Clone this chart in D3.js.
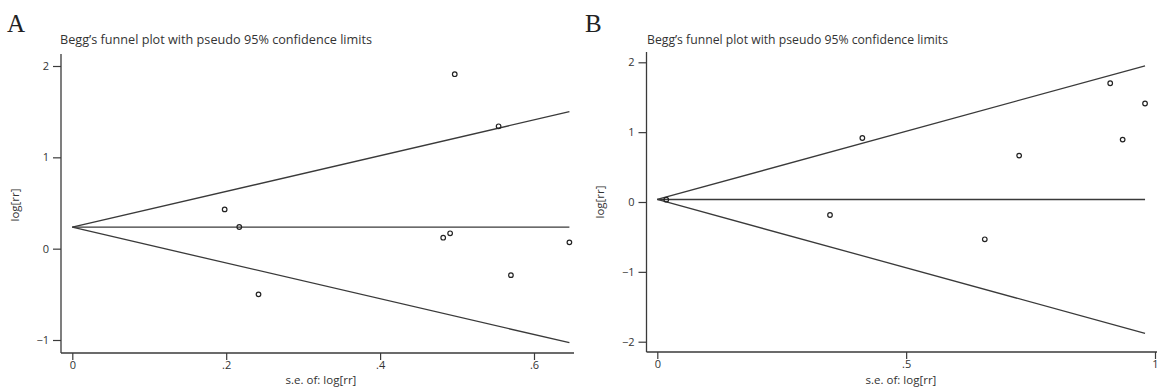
<!DOCTYPE html>
<html>
<head>
<meta charset="utf-8">
<script src="https://cdn.jsdelivr.net/npm/d3@7"></script>
<style>
  body { margin: 0; background: #fff; }
  text { font-family: "Open Sans", "DejaVu Sans", sans-serif; fill: #333; }
</style>
</head>
<body>
<script>
// Panel A data: standard error and log risk ratio of each study
var seA = [0.198, 0.217, 0.242, 0.482, 0.491, 0.497, 0.554, 0.570, 0.646];
var logrrA = [0.43, 0.237, -0.50, 0.12, 0.168, 1.91, 1.34, -0.29, 0.069];
// Funnel of panel A: se, centre line, upper and lower pseudo limits
var funnelSeA = [0, 0.646];
var funnelMidA = [0.235, 0.235];
var funnelUpA = [0.235, 1.50];
var funnelLoA = [0.235, -1.03];
var xTicksA = [0, 0.2, 0.4, 0.6];
var xTickLabelsA = ["0", ".2", ".4", ".6"];
var yTicksA = [-1, 0, 1, 2];

// Panel B data
var seB = [0.018, 0.347, 0.412, 0.658, 0.727, 0.910, 0.935, 0.980];
var logrrB = [0.034, -0.186, 0.916, -0.534, 0.664, 1.70, 0.893, 1.41];
var funnelSeB = [0, 0.98];
var funnelMidB = [0.036, 0.036];
var funnelUpB = [0.036, 1.95];
var funnelLoB = [0.036, -1.88];
var xTicksB = [0, 0.5, 1];
var xTickLabelsB = ["0", ".5", "1"];
var yTicksB = [-2, -1, 0, 1, 2];

var svg = d3.select("body").append("svg")
    .attr("width", 1157)
    .attr("height", 387);

var ink = "#3a3a3a";

// draw one funnel panel
function funnelPanel(p) {
    var g = svg.append("g");
    var x = d3.scaleLinear().domain(p.xDomain).range(p.xRange);
    var y = d3.scaleLinear().domain(p.yDomain).range(p.yRange);

    // panel letter
    g.append("text")
        .attr("x", p.letterX).attr("y", 32)
        .style("font-family", "'Liberation Serif', 'DejaVu Serif', serif")
        .style("font-size", "25px")
        .style("fill", "#222")
        .text(p.letter);

    // title
    g.append("text")
        .attr("x", p.titleX).attr("y", 44)
        .attr("textLength", p.titleW)
        .attr("lengthAdjust", "spacingAndGlyphs")
        .style("font-size", "12px")
        .text("Begg\u2019s funnel plot with pseudo 95% confidence limits");

    // axes
    var yAxis = d3.axisLeft(y).tickValues(p.yTicks).tickSize(8).tickPadding(4)
        .tickFormat(function(d) { return d < 0 ? "\u2212" + Math.abs(d) : d; });
    var xAxis = d3.axisBottom(x).tickValues(p.xTicks).tickSize(7).tickPadding(1)
        .tickFormat(function(d, i) { return p.xTickLabels[i]; });

    var ya = g.append("g")
        .attr("transform", "translate(" + p.axisX + ",0)")
        .call(yAxis);
    ya.select(".domain").remove();
    ya.append("line")
        .attr("x1", 0).attr("x2", 0)
        .attr("y1", p.axisTop).attr("y2", p.axisY)
        .attr("stroke", ink).attr("stroke-width", 1.3);

    var xa = g.append("g")
        .attr("transform", "translate(0," + p.axisY + ")")
        .call(xAxis);
    xa.select(".domain").remove();
    xa.append("line")
        .attr("x1", p.axisX).attr("x2", p.axisRight)
        .attr("y1", 0).attr("y2", 0)
        .attr("stroke", ink).attr("stroke-width", 1.3);

    g.selectAll(".tick line").attr("stroke", ink).attr("stroke-width", 1.2);
    g.selectAll(".tick text").style("font-size", "11px").attr("fill", "#333")
        .style("font-family", "'Open Sans', 'DejaVu Sans', sans-serif");
    // keep a tick label at the right page edge inside the picture
    xa.selectAll(".tick text").filter(function() {
        return p.axisRight > 1150 && this.textContent === "1";
    }).attr("text-anchor", "end").attr("dx", "3");

    // axis titles
    g.append("text")
        .attr("transform", "translate(" + p.yLabelX + "," + p.yLabelY + ") rotate(-90)")
        .style("text-anchor", "middle")
        .style("font-size", "11.5px")
        .text("log[rr]");
    g.append("text")
        .attr("x", p.xLabelX).attr("y", 384)
        .style("text-anchor", "middle")
        .style("font-size", "11.5px")
        .text("s.e. of: log[rr]");

    // funnel lines
    var line = d3.line()
        .x(function(d) { return x(d[0]); })
        .y(function(d) { return y(d[1]); });
    [p.mid, p.up, p.lo].forEach(function(v) {
        g.append("path")
            .datum(d3.zip(p.funnelSe, v))
            .attr("d", line)
            .attr("fill", "none")
            .attr("stroke", ink)
            .attr("stroke-width", 1.3);
    });

    // studies
    g.selectAll("circle.study")
        .data(d3.zip(p.se, p.logrr))
        .enter()
        .append("circle")
        .attr("class", "study")
        .attr("cx", function(d) { return x(d[0]); })
        .attr("cy", function(d) { return y(d[1]); })
        .attr("r", 2.3)
        .attr("fill", "none")
        .attr("stroke", "#222")
        .attr("stroke-width", 1.2);
}

funnelPanel({
    letter: "A", letterX: 7, titleX: 60, titleW: 312,
    xDomain: [0, 0.6], xRange: [72.3, 534],
    yDomain: [-1, 2], yRange: [340, 66],
    axisX: 61, axisY: 353, axisTop: 54, axisRight: 574,
    yLabelX: 19, yLabelY: 205, xLabelX: 321,
    xTicks: xTicksA, xTickLabels: xTickLabelsA, yTicks: yTicksA,
    funnelSe: funnelSeA, mid: funnelMidA, up: funnelUpA, lo: funnelLoA,
    se: seA, logrr: logrrA
});

funnelPanel({
    letter: "B", letterX: 585, titleX: 647, titleW: 301,
    xDomain: [0, 1], xRange: [657.3, 1155],
    yDomain: [-2, 2], yRange: [341.7, 62.3],
    axisX: 646.5, axisY: 352, axisTop: 52, axisRight: 1160,
    yLabelX: 604, yLabelY: 202, xLabelX: 901,
    xTicks: xTicksB, xTickLabels: xTickLabelsB, yTicks: yTicksB,
    funnelSe: funnelSeB, mid: funnelMidB, up: funnelUpB, lo: funnelLoB,
    se: seB, logrr: logrrB
});
</script>
</body>
</html>
